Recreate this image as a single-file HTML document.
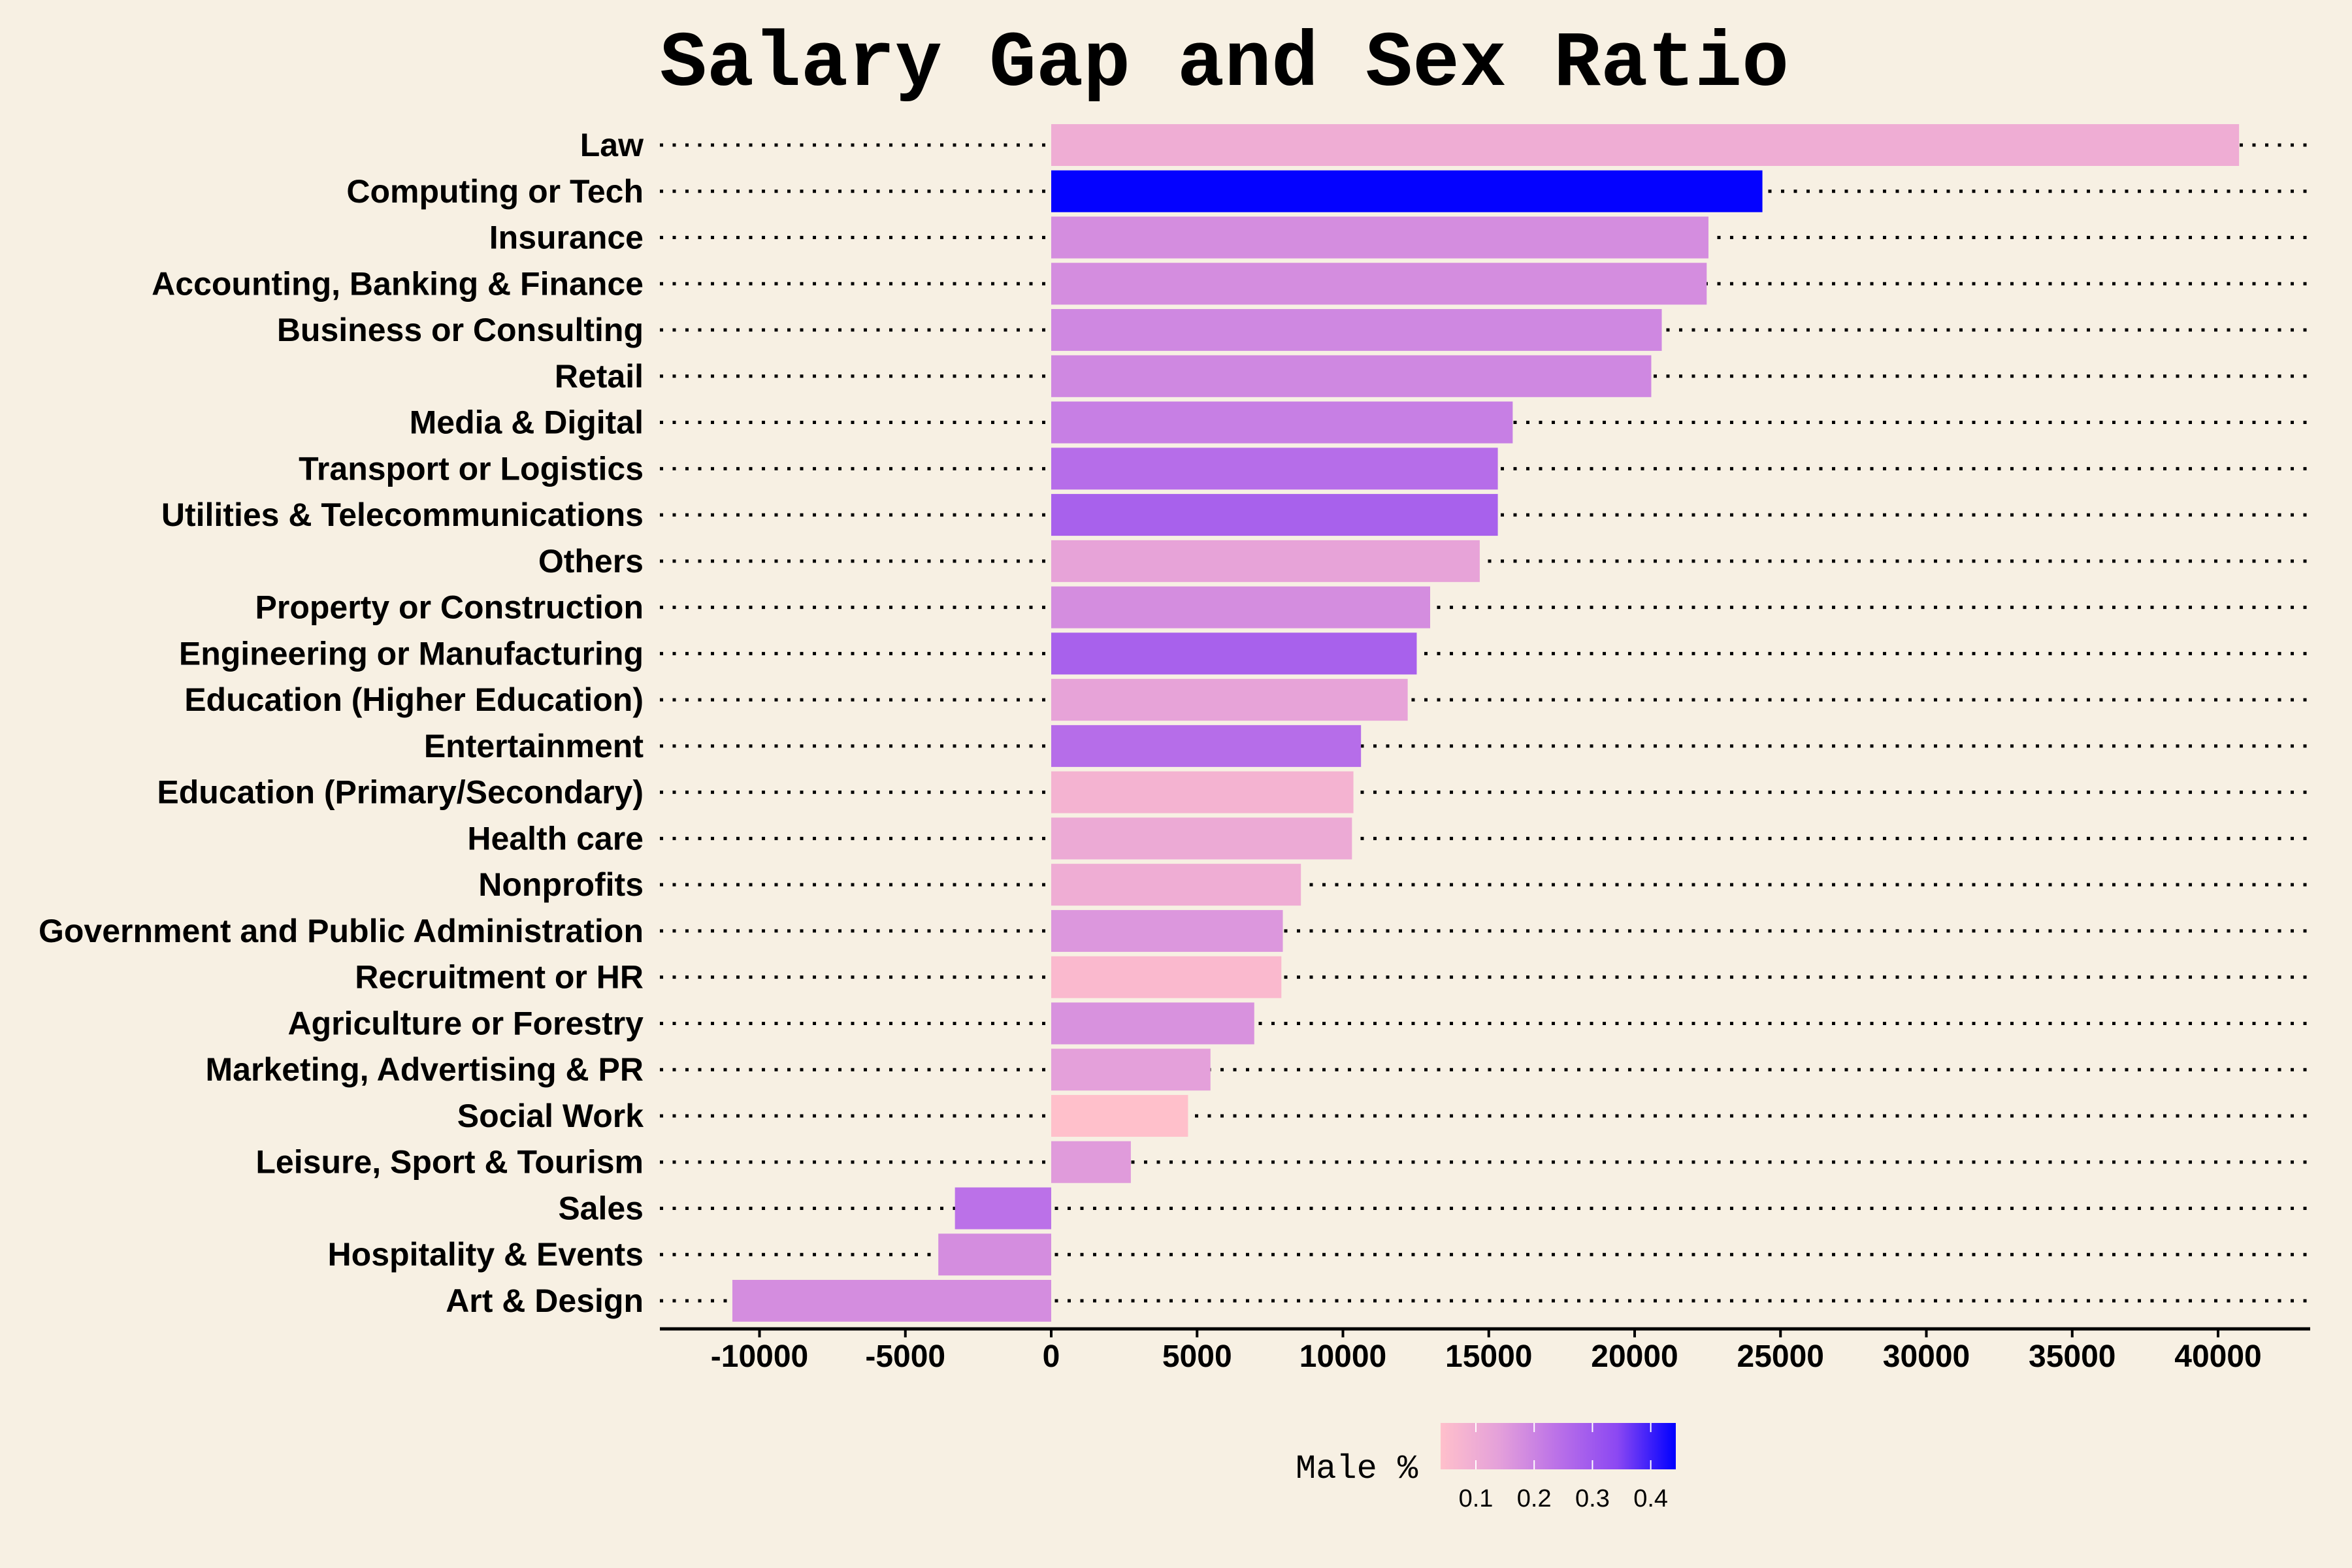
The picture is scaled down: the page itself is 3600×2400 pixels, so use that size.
<!DOCTYPE html>
<html><head><meta charset="utf-8"><style>
html,body{margin:0;padding:0;background:#F7F0E3;}
svg{display:block;}
</style></head><body>
<svg id="chart" width="3600" height="2400" xmlns="http://www.w3.org/2000/svg">
<rect x="0" y="0" width="3600" height="2400" fill="#F7F0E3"/>
<text x="1874" y="130" text-anchor="middle" font-family="'Liberation Mono', monospace" font-weight="bold" font-size="120">Salary Gap and Sex Ratio</text>
<g id="rows"></g>
<g id="xaxis"></g>
<g id="legend"></g>
</svg>
<script>
const categories = ["Law","Computing or Tech","Insurance","Accounting, Banking & Finance","Business or Consulting","Retail","Media & Digital","Transport or Logistics","Utilities & Telecommunications","Others","Property or Construction","Engineering or Manufacturing","Education (Higher Education)","Entertainment","Education (Primary/Secondary)","Health care","Nonprofits","Government and Public Administration","Recruitment or HR","Agriculture or Forestry","Marketing, Advertising & PR","Social Work","Leisure, Sport & Tourism","Sales","Hospitality & Events","Art & Design"];
const salaryGap = [40720,24380,22530,22470,20930,20570,15820,15310,15310,14690,12990,12530,12220,10620,10360,10310,8560,7940,7890,6960,5460,4690,2730,-3300,-3870,-10930];
const malePct = [0.10,0.44,0.18,0.18,0.19,0.19,0.21,0.25,0.28,0.13,0.18,0.28,0.13,0.25,0.08,0.11,0.10,0.16,0.06,0.17,0.14,0.04,0.15,0.24,0.18,0.18];
const xTicks = [-10000,-5000,0,5000,10000,15000,20000,25000,30000,35000,40000];
const legendTicks = [0.1,0.2,0.3,0.4];

const NS="http://www.w3.org/2000/svg";
const panelL=1010, panelR=3536, zeroX=1609, pxPer=446.5/10000;
const xs=v=>zeroX+v*pxPer;
const row0=222, step=(1991-222)/25, barH=64;
const ys=i=>row0+i*step;
const cMin=0.0395, cMax=0.443;
const stops=[[0,[255,192,203]],[0.25,[228,160,218]],[0.5,[186,112,232]],[0.75,[140,72,242]],[1,[0,0,255]]];
function color(v){
  let t=Math.max(0,Math.min(1,(v-cMin)/(cMax-cMin)));
  for(let k=0;k<stops.length-1;k++){
    const [a,ca]=stops[k],[b,cb]=stops[k+1];
    if(t<=b){const f=(t-a)/(b-a);return `rgb(${ca.map((c,j)=>Math.round(c+(cb[j]-c)*f)).join(',')})`;}
  }
  return 'rgb(0,0,255)';
}
function mk(tag,attrs,parent){const e=document.createElementNS(NS,tag);for(const k in attrs)e.setAttribute(k,attrs[k]);parent.appendChild(e);return e;}

const rows=document.getElementById('rows');
categories.forEach((c,i)=>{
  const y=ys(i);
  const ln=mk('line',{x1:panelL,x2:panelR,y1:y,y2:y,stroke:'#000','stroke-width':5,'stroke-dasharray':'5 14.5'},rows);
  
  
  const v=salaryGap[i];
  const x0=Math.min(xs(0),xs(v)), w=Math.abs(xs(v)-xs(0));
  const r=mk('rect',{x:x0,y:y-barH/2,width:w,height:barH,fill:color(malePct[i])},rows);
  
  
  const t=mk('text',{x:985,y:y+17,'text-anchor':'end','font-family':"'Liberation Sans', sans-serif",'font-weight':'bold','font-size':50},rows);
  t.textContent=c;
  
  
});

const ax=document.getElementById('xaxis');
const al=mk('line',{x1:panelL,x2:panelR,y1:2034,y2:2034,stroke:'#000','stroke-width':5},ax);


xTicks.forEach(v=>{
  const tk=mk('line',{x1:xs(v),x2:xs(v),y1:2034,y2:2047,stroke:'#000','stroke-width':4},ax);
  
  
  const t=mk('text',{x:xs(v),y:2092,'text-anchor':'middle','font-family':"'Liberation Sans', sans-serif",'font-weight':'bold','font-size':48},ax);
  t.textContent=String(v);
  
  
});

const lg=document.getElementById('legend');
const defs=mk('defs',{},lg);
const grad=mk('linearGradient',{id:'cb',x1:0,x2:1,y1:0,y2:0},defs);
stops.forEach(([o,c])=>mk('stop',{offset:o,'stop-color':`rgb(${c.join(',')})`},grad));
const lt=mk('text',{x:1983,y:2262,'font-family':"'Liberation Mono', monospace",'font-size':52},lg);
lt.textContent='Male %';


const cbL=2205, cbR=2565, cbT=2178, cbB=2249;
const cb=mk('rect',{x:cbL,y:cbT,width:cbR-cbL,height:cbB-cbT,fill:'url(#cb)'},lg);


const lx=v=>cbL+(v-cMin)/(cMax-cMin)*(cbR-cbL);
legendTicks.forEach(v=>{
  [[cbT,cbT+14],[cbB-14,cbB]].forEach(([a,b])=>{
    const l=mk('line',{x1:lx(v),x2:lx(v),y1:a,y2:b,stroke:'#fff','stroke-width':2},lg);
    
    
  });
  const t=mk('text',{x:lx(v),y:2306,'text-anchor':'middle','font-family':"'Liberation Sans', sans-serif",'font-size':38},lg);
  t.textContent=String(v);
  
  
});
</script>
</body></html>
